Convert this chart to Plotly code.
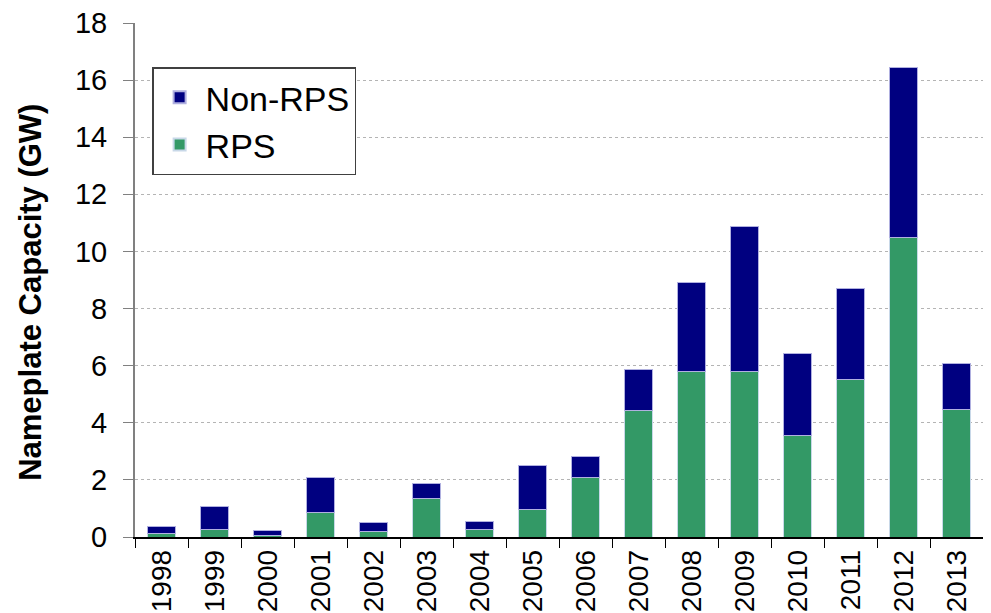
import plotly.graph_objects as go

years = [str(y) for y in range(1998, 2014)]
rps = [0.13, 0.25, 0.05, 0.85, 0.20, 1.34, 0.25, 0.98, 2.08, 4.42, 5.81, 5.78, 3.57, 5.50, 10.49, 4.48]
total = [0.36, 1.06, 0.22, 2.08, 0.50, 1.86, 0.55, 2.50, 2.83, 5.85, 8.93, 10.89, 6.41, 8.72, 16.45, 6.09]
non_rps = [round(t - r, 2) for t, r in zip(total, rps)]
y_ticks = list(range(0, 19, 2))

fig = go.Figure()
fig.add_trace(go.Bar(x=years, y=rps, name="RPS", marker=dict(color="#339966", line=dict(color="#c8d8e8", width=1))))
fig.add_trace(go.Bar(x=years, y=non_rps, name="Non-RPS", marker=dict(color="#000080", line=dict(color="#b0b0e0", width=1))))

fig.update_layout(
    barmode="stack",
    bargap=0.47,
    width=991, height=613,
    margin=dict(l=127, r=8, t=15, b=84, autoexpand=False),
    plot_bgcolor="white", paper_bgcolor="white",
    font=dict(family="Arial, Liberation Sans", color="black"),
    legend=dict(
        x=0.02, y=0.914, xanchor="left", yanchor="top",
        traceorder="reversed",
        bordercolor="#404040", borderwidth=1.5,
        font=dict(size=34, color="black"),
        itemsizing="constant", tracegroupgap=0, itemwidth=42,
        bgcolor="white",
    ),
    showlegend=True,
    annotations=[dict(
        text="<b>Nameplate Capacity (GW)</b>", textangle=-90,
        xref="paper", yref="paper", x=-0.1215, y=0.477,
        xanchor="center", yanchor="middle", showarrow=False,
        font=dict(size=31, color="black"),
    )],
)
fig.update_xaxes(
    type="category",
    range=[-0.5, 15.65],
    tickangle=-90,
    tickfont=dict(size=28),
    showline=True, linecolor="black", linewidth=1.5,
    ticks="outside", tickson="boundaries", ticklen=9, tickcolor="black",
    showgrid=False, automargin=False,
)
fig.update_yaxes(
    range=[0, 18],
    tickvals=y_ticks,
    tickfont=dict(size=29),
    showline=True, linecolor="#808080", linewidth=2,
    ticks="outside", ticklen=10, tickcolor="#808080",
    ticklabelstandoff=10, ticklabeloverflow="allow",
    showgrid=True, gridcolor="#b4b4b4", griddash="dot", gridwidth=1,
    zeroline=False, automargin=False,
)

fig.write_html("out.html")
